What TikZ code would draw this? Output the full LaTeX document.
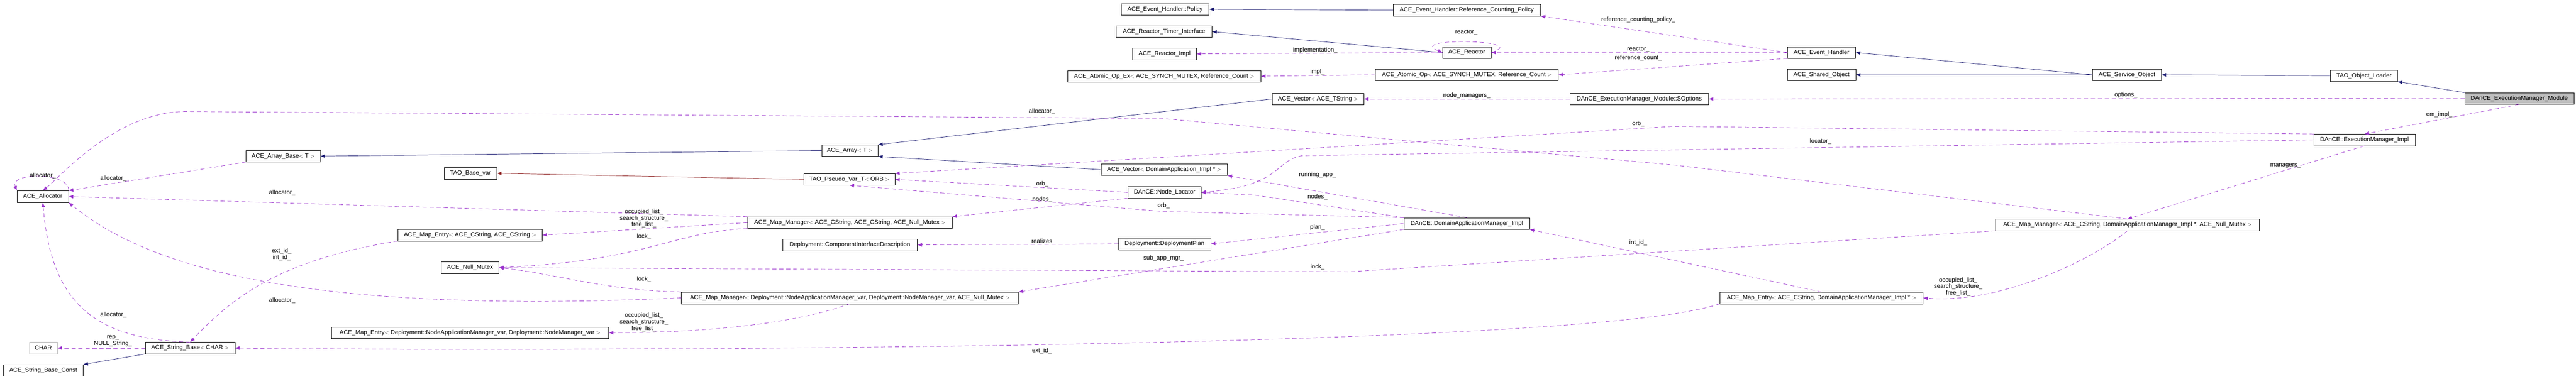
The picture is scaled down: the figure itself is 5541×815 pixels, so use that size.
\documentclass[tikz,border=0pt]{standalone}
\usepackage{fontspec}
\setmainfont{Liberation Sans}
\usetikzlibrary{arrows.meta}
\definecolor{usec}{HTML}{9A32CD}
\definecolor{inhc}{HTML}{191970}
\definecolor{redc}{HTML}{8B1A1A}
\tikzset{
 box/.style={draw=black,fill=white,minimum height=25pt,inner sep=2pt,font=\fontsize{13}{15}\selectfont},
 gbox/.style={box,draw=gray!60},
 hbox/.style={box,fill=gray!50},
 use/.style={draw=usec,dashed,dash pattern=on 9pt off 6pt,-{Latex[length=10pt,width=8pt]},thick},
 inh/.style={draw=inhc,-{Latex[length=10pt,width=8pt]},thick},
 red/.style={draw=redc,-{Latex[length=10pt,width=8pt]},thick},
 lbl/.style={font=\fontsize{13}{14}\selectfont,align=center,inner sep=0pt}
}
\begin{document}
\begin{tikzpicture}[x=1pt,y=-1pt]
\useasboundingbox[fill=white] (0,0) rectangle (5541,815);
% nodes
\node[box,minimum width=111pt] (alloc) at (92,423) {ACE\_Allocator};
\node[box,minimum width=160pt] (arraybase) at (609,336) {ACE\_Array\_Base$<$ T $>$};
\node[gbox,minimum width=60pt] (char) at (93,749) {CHAR};
\node[box,minimum width=192pt] (sbase) at (409,749) {ACE\_String\_Base$<$ CHAR $>$};
\node[box,minimum width=172pt] (sbconst) at (93,797) {ACE\_String\_Base\_Const};
\node[box,minimum width=311pt] (meCC) at (1011,506) {ACE\_Map\_Entry$<$ ACE\_CString, ACE\_CString $>$};
\node[box,minimum width=596pt] (meNA) at (1011,716) {ACE\_Map\_Entry$<$ Deployment::NodeApplicationManager\_var, Deployment::NodeManager\_var $>$};
\node[box,minimum width=124pt] (nullm) at (1011,576) {ACE\_Null\_Mutex};
\node[box,minimum width=113pt] (tbv) at (1012,373) {TAO\_Base\_var};
\node[box,minimum width=121pt] (array) at (1828,324) {ACE\_Array$<$ T $>$};
\node[box,minimum width=196pt] (pseudo) at (1827,386) {TAO\_Pseudo\_Var\_T$<$ ORB $>$};
\node[box,minimum width=440pt] (mmCC) at (1828,479) {ACE\_Map\_Manager$<$ ACE\_CString, ACE\_CString, ACE\_Null\_Mutex $>$};
\node[box,minimum width=290pt] (cid) at (1828,527) {Deployment::ComponentInterfaceDescription};
\node[box,minimum width=725pt] (mmNA) at (1828,641) {ACE\_Map\_Manager$<$ Deployment::NodeApplicationManager\_var, Deployment::NodeManager\_var, ACE\_Null\_Mutex $>$};
\node[box,minimum width=189pt] (policy) at (2506,20) {ACE\_Event\_Handler::Policy};
\node[box,minimum width=206pt] (rti) at (2504,68) {ACE\_Reactor\_Timer\_Interface};
\node[box,minimum width=137pt] (rimpl) at (2505,116) {ACE\_Reactor\_Impl};
\node[box,minimum width=416pt] (atomex) at (2504,164) {ACE\_Atomic\_Op\_Ex$<$ ACE\_SYNCH\_MUTEX, Reference\_Count $>$};
\node[box,minimum width=272pt] (vecDA) at (2504,365) {ACE\_Vector$<$ DomainApplication\_Impl * $>$};
\node[box,minimum width=157pt] (locator) at (2505,414) {DAnCE::Node\_Locator};
\node[box,minimum width=198pt] (plan) at (2505,525) {Deployment::DeploymentPlan};
\node[box,minimum width=317pt] (rcp) at (3155,22) {ACE\_Event\_Handler::Reference\_Counting\_Policy};
\node[box,minimum width=104pt] (reactor) at (3155,113) {ACE\_Reactor};
\node[box,minimum width=393pt] (atom) at (3155,161) {ACE\_Atomic\_Op$<$ ACE\_SYNCH\_MUTEX, Reference\_Count $>$};
\node[box,minimum width=197pt] (vecTS) at (2835,213) {ACE\_Vector$<$ ACE\_TString $>$};
\node[box,minimum width=298pt] (sopt) at (3526,213) {DAnCE\_ExecutionManager\_Module::SOptions};
\node[box,minimum width=270pt] (dam) at (3155,481) {DAnCE::DomainApplicationManager\_Impl};
\node[box,minimum width=146pt] (eh) at (3918,113) {ACE\_Event\_Handler};
\node[box,minimum width=147pt] (so) at (3918,161) {ACE\_Shared\_Object};
\node[box,minimum width=148pt] (svc) at (4575,161) {ACE\_Service\_Object};
\node[box,minimum width=567pt] (mmDA) at (4576,484) {ACE\_Map\_Manager$<$ ACE\_CString, DomainApplicationManager\_Impl *, ACE\_Null\_Mutex $>$};
\node[box,minimum width=437pt] (meDA) at (3918,641) {ACE\_Map\_Entry$<$ ACE\_CString, DomainApplicationManager\_Impl * $>$};
\node[box,minimum width=144pt] (tol) at (5085,163) {TAO\_Object\_Loader};
\node[box,minimum width=218pt] (emi) at (5086,301) {DAnCE::ExecutionManager\_Impl};
\node[hbox,minimum width=235pt] (mod) at (5419,212) {DAnCE\_ExecutionManager\_Module};
% inheritance
\draw[inh] (array.west) -- (arraybase.east);
\draw[inh] (vecTS.west) -- (array.north east);
\draw[inh] (vecDA.west) -- (array.south east);
\draw[inh] (rcp.west) -- (policy.east);
\draw[inh] (reactor.west) -- (rti.east);
\draw[inh] (svc.west) -- (eh.east);
\draw[inh] (svc.west) -- (so.east);
\draw[inh] (tol.west) -- (svc.east);
\draw[inh] (mod.north west) -- (tol.south east);
\draw[inh] (sbase.south west) -- (sbconst.north east);
\draw[red] (pseudo.west) -- (tbv.east);
% usage
\draw[use] (alloc.north east) .. controls (150,370) and (20,370) .. (alloc.north west);
\draw[use] (arraybase.south west) -- (alloc.north east);
\draw[use] (mmCC.north west) -- (alloc.east);
\draw[use] (mmNA.west) .. controls (600,680) and (300,560) .. (alloc.south east);
\draw[use] (sbase.north) .. controls (200,730) and (110,650) .. (alloc.south);
\draw[use] (mmDA.north) -- (3600,355) -- (2500,255) -- (400,240) .. controls (250,240) and (130,380) .. (alloc.north);
\draw[use] (sbase.west) -- (char.east);
\draw[use] (meCC.south west) .. controls (600,560) and (500,640) .. (sbase.north);
\draw[use] (meDA.south west) .. controls (3400,760) and (900,755) .. (sbase.east);
\draw[use] (mmCC.west) -- (meCC.east);
\draw[use] (mmCC.south west) .. controls (1440,500) and (1400,560) .. (nullm.east);
\draw[use] (mmNA.north west) .. controls (1300,625) and (1200,590) .. (nullm.east);
\draw[use] (mmDA.south west) -- (2900,585) -- (nullm.east);
\draw[use] (mmNA.south) .. controls (1700,700) and (1500,716) .. (meNA.east);
\draw[use] (emi.north west) -- (3600,272) -- (pseudo.north east);
\draw[use] (locator.west) -- (pseudo.east);
\draw[use] (dam.north west) -- (2500,455) -- (pseudo.south);
\draw[use] (locator.south west) -- (mmCC.north east);
\draw[use] (emi.west) -- (2801,335) .. controls (2740,345) and (2760,400) .. (locator.east);
\draw[use] (dam.north west) -- (2700,420) -- (locator.east);
\draw[use] (dam.north) -- (vecDA.south east);
\draw[use] (plan.west) -- (cid.east);
\draw[use] (dam.west) -- (plan.east);
\draw[use] (dam.south west) -- (mmNA.north east);
\draw[use] (meDA.north) -- (dam.south east);
\draw[use] (mmDA.south) .. controls (4500,560) and (4300,655) .. (meDA.east);
\draw[use] (emi.south) -- (mmDA.north);
\draw[use] (mod.south) -- (emi.north);
\draw[use] (mod.west) -- (sopt.east);
\draw[use] (sopt.west) -- (vecTS.east);
\draw[use] (eh.west) -- (rcp.south east);
\draw[use] (eh.west) -- (reactor.east);
\draw[use] (eh.south west) -- (atom.east);
\draw[use] (reactor.east) .. controls (3300,85) and (3020,80) .. (reactor.west);
\draw[use] (reactor.west) -- (rimpl.east);
\draw[use] (atom.west) -- (atomex.east);
% labels
\node[lbl] (l1) at (92,378) {allocator\_};
\node[lbl] (l2) at (244,384) {allocator\_};
\node[lbl] (l3) at (607,415) {allocator\_};
\node[lbl] (l4) at (606,547) {ext\_id\_\\int\_id\_};
\node[lbl] (l5) at (607,647) {allocator\_};
\node[lbl] (l6) at (244,678) {allocator\_};
\node[lbl] (l7) at (243,734) {rep\_\\NULL\_String\_};
\node[lbl] (l8) at (1385,470) {occupied\_list\_\\search\_structure\_\\free\_list\_};
\node[lbl] (l9) at (1385,509) {lock\_};
\node[lbl] (l10) at (1385,601) {lock\_};
\node[lbl] (l11) at (1385,693) {occupied\_list\_\\search\_structure\_\\free\_list\_};
\node[lbl] (l12) at (2241,240) {allocator\_};
\node[lbl] (l13) at (2242,396) {orb\_};
\node[lbl] (l14) at (2242,429) {nodes\_};
\node[lbl] (l15) at (2503,443) {orb\_};
\node[lbl] (l16) at (2241,519) {realizes};
\node[lbl] (l17) at (2503,556) {sub\_app\_mgr\_};
\node[lbl] (l18) at (2241,755) {ext\_id\_};
\node[lbl] (l19) at (3524,43) {reference\_counting\_policy\_};
\node[lbl] (l20) at (3154,70) {reactor\_};
\node[lbl] (l21) at (2829,108) {implementation\_};
\node[lbl] (l22) at (3524,106) {reactor\_};
\node[lbl] (l23) at (3524,125) {reference\_count\_};
\node[lbl] (l24) at (2834,155) {impl\_};
\node[lbl] (l25) at (3155,206) {node\_managers\_};
\node[lbl] (l26) at (3524,266) {orb\_};
\node[lbl] (l27) at (2834,376) {running\_app\_};
\node[lbl] (l28) at (2834,424) {nodes\_};
\node[lbl] (l29) at (2834,489) {plan\_};
\node[lbl] (l30) at (3524,522) {int\_id\_};
\node[lbl] (l31) at (2834,575) {lock\_};
\node[lbl] (l32) at (3916,304) {locator\_};
\node[lbl] (l33) at (4212,617) {occupied\_list\_\\search\_structure\_\\free\_list\_};
\node[lbl] (l34) at (4573,204) {options\_};
\node[lbl] (l35) at (5247,246) {em\_impl\_};
\node[lbl] (l36) at (4916,356) {managers\_};
\end{tikzpicture}
\end{document}
